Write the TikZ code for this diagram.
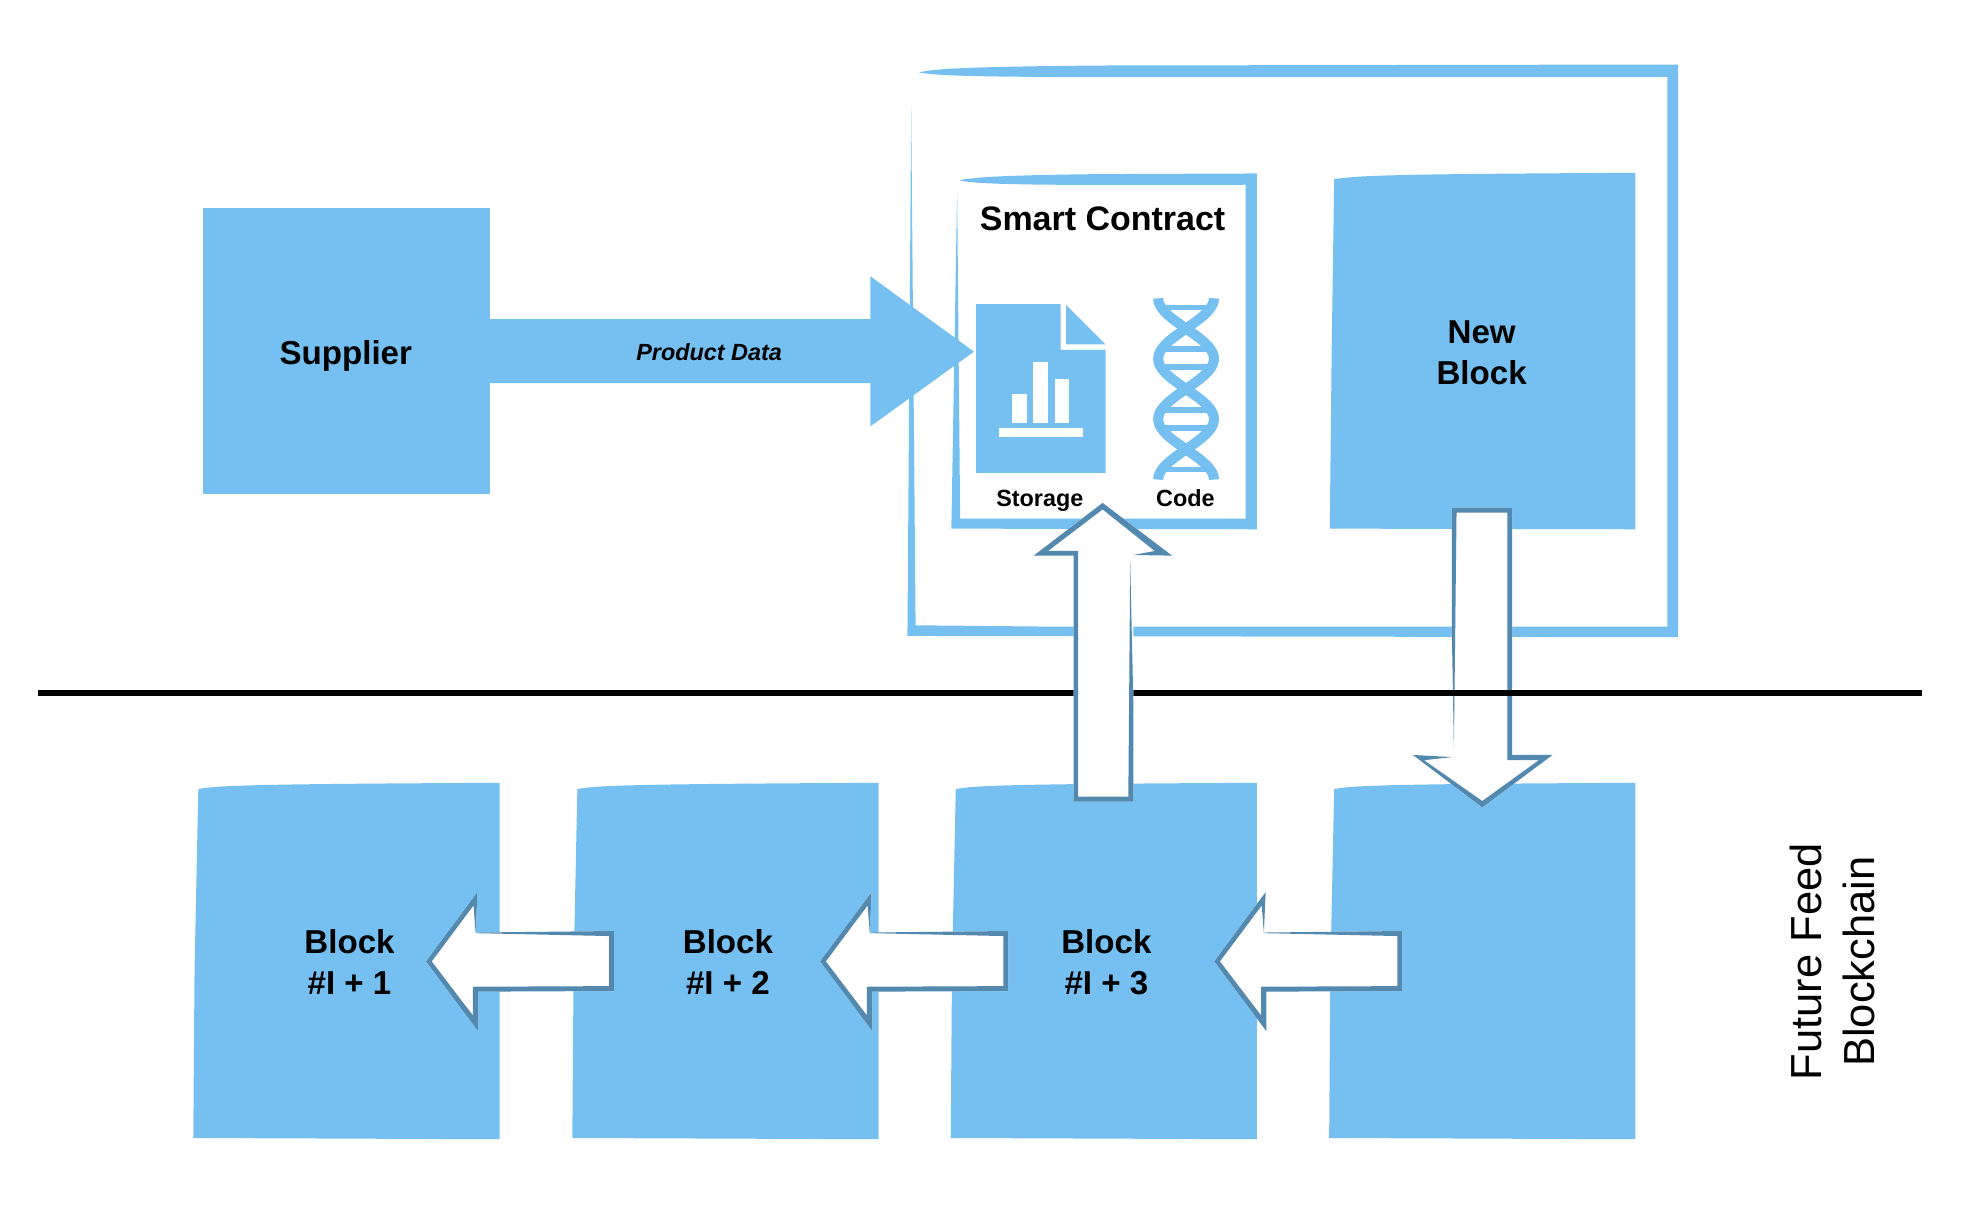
\documentclass[tikz,border=0pt]{standalone}
\usepackage{fontspec}
\setmainfont{Liberation Sans}
\usetikzlibrary{calc}
\definecolor{blockblue}{HTML}{75C0F0}
\definecolor{arrowblue}{HTML}{5388AF}
\tikzset{
  bluefill/.style={fill=blockblue,draw=none},
  ringfill/.style={fill=arrowblue,draw=none},
  whitefill/.style={fill=white,draw=none},
  maintext/.style={inner sep=0pt,align=center,text=black,font=\fontsize{7.5}{9.3}\selectfont\bfseries},
  smalltext/.style={inner sep=0pt,align=center,text=black,anchor=base,font=\fontsize{5.3}{6.5}\selectfont\bfseries},
  sidetext/.style={inner sep=0pt,align=center,text=black,font=\fontsize{9.85}{12.2}\selectfont},
}
\newcommand{\sketchblock}[1]{%
  \begin{scope}[shift={(#1)}]
    \fill[bluefill] (4,5) .. controls (20,2) and (50,1) .. (244,0) -- (244,284) -- (0,283) -- (1,150) -- cycle;
  \end{scope}}
\newcommand{\leftblockarrow}[1]{%
  \begin{scope}[shift={(#1)}]
    \fill[whitefill] (0,0) -- (41,-55.2) -- (39.6,-23) -- (149.8,-24.2) -- (149.8,23.6) -- (41.5,24.1) -- (41.5,55.5) -- cycle;
    \fill[ringfill,even odd rule]
      (0,0) -- (41,-55.2) -- (39.6,-23) -- (149.8,-24.2) -- (149.8,23.6) -- (41.5,24.1) -- (41.5,55.5) -- cycle
      (4.6,0) -- (37.9,-44.6) -- (39.6,-22.5) -- (146,-20.2) -- (146,19.7) -- (37.3,20.2) -- (37.3,43) -- cycle;
  \end{scope}}
\begin{document}
\begin{tikzpicture}[x=0.01cm,y=-0.01cm]
\useasboundingbox (0,-0.7) rectangle (1568,972.9);
% Supplier and product arrow
\node[fill=blockblue,minimum width=2.28cm,minimum height=2.28cm,inner sep=0pt,outer sep=0pt] (supplierbox) at (276,279) {};
\node[maintext] (supplier) at (275.5,283) {Supplier};
% outer frame
\fill[bluefill] (732.3,57) .. controls (745,54) and (770,52.5) .. (876,51.5) -- (1337,50.7) -- (1337,507) -- (723,506) -- (726,85)
  -- (729.5,497.5) -- (830,498.5) -- (1328.5,498.5) -- (1328.5,60.8) -- (876,60.8) .. controls (770,60.5) and (745,59.5) .. (732.3,57) -- cycle;
% new block
\fill[bluefill] (1063,142) .. controls (1085,139) and (1110,138) .. (1303,137) -- (1303,421) -- (1059.5,420.5) -- (1061,280) -- cycle;
\node[maintext] (newblock) at (1180.5,280) {New\\Block};
% smart contract frame
\fill[bluefill] (764.4,143) .. controls (775,140.5) and (800,138.8) .. (880,138) -- (1001.5,137.5) -- (1001.5,421) -- (758,420.5) -- (762.6,151)
  -- (765,412.5) -- (992.5,412.5) -- (992.5,146.5) -- (880,146.7) .. controls (800,146.5) and (775,145.5) .. (764.4,143) -- cycle;
\node[maintext,font=\fontsize{7.7}{9.4}\selectfont\bfseries] (contract) at (878.5,174) {Smart Contract};
% product arrow
\fill[bluefill] (supplierbox.east) ++(0,-25.5) -- ++(303.5,0) -- ++(0,-34) -- (776,279.5) -- (693.5,339) -- (693.5,304.5) -- ($(supplierbox.east)+(0,25.5)$) -- cycle;
\node[smalltext,anchor=center,font=\fontsize{5.3}{6.5}\selectfont\bfseries\itshape] (product) at (565,279.5) {Product Data};
% storage icon
\fill[bluefill] (777.7,241.7) -- (845,241.7) -- (845,278) -- (881,278) -- (881,376) -- (777.7,376) -- cycle;
\fill[bluefill] (849.4,242.3) -- (849.4,273.6) -- (880.7,273.6) -- cycle;
\fill[whitefill] (806.6,313.4) rectangle (818.3,336.3);
\fill[whitefill] (823.4,287.7) rectangle (835.3,336.3);
\fill[whitefill] (840.4,301.4) rectangle (852,336.3);
\fill[whitefill] (796,340.5) rectangle (863,347.4);
\node[smalltext] (storage) at (828.5,402.5) {Storage};
% code icon
\draw[blockblue,line width=0.08cm,line join=round] plot[domain=0:144.4,samples=90] ({945+22.2*cos(\x/48.13*180)},{237+\x});
\draw[blockblue,line width=0.08cm,line join=round] plot[domain=0:144.4,samples=90] ({945-22.2*cos(\x/48.13*180)},{237+\x});
\foreach \ry in {244.3,277.6,291.9,325.9,340.3,373.4}{
  \pgfmathsetmacro{\halfw}{22.2*abs(cos((\ry-237)/48.13*180))}
  \draw[blockblue,line width=0.046cm] ({945-\halfw},\ry) -- ({945+\halfw},\ry);
}
\node[smalltext] (code) at (944.5,402.5) {Code};
% lower blocks
\sketchblock{154,623}
\sketchblock{456,623}
\sketchblock{757.5,623}
\sketchblock{1059,623}
\node[maintext] (b1) at (278.5,766) {Block\\\#I + 1};
\node[maintext] (b2) at (580,766) {Block\\\#I + 2};
\node[maintext] (b3) at (881.5,766) {Block\\\#I + 3};
% down arrow
\fill[whitefill] (1156.7,404) -- (1204.8,404) -- (1204.8,600.8) -- (1237,600.8) -- (1181,642.6) -- (1125.7,600.8) -- (1156.7,600.8) -- cycle;
\fill[ringfill] (1156.7,404) -- (1204.8,404) -- (1204.8,600.8) -- (1237,600.8) -- (1181,642.6) -- (1125.7,600.8) -- (1157,602.5) -- (1134.6,605) -- (1181,637.5) -- (1226,605) -- (1201,605) -- (1201,407.7) -- (1160.5,407.7) -- (1158.4,595) -- (1156.7,500) -- cycle;
% horizontal rule
\coordinate (ruleL) at (30,551.7);
\coordinate (ruleR) at (1531,551.7);
\draw[black,line width=0.047cm] (ruleL) -- (ruleR);
% up arrow
\fill[whitefill] (878.5,400) -- (933.8,442) -- (903,442) -- (903,638) -- (855.4,638) -- (855.4,442) -- (823.6,442) -- cycle;
\fill[ringfill] (878.5,400) -- (933.8,442) -- (903,441.5) -- (920,438.3) -- (878.5,405.2) -- (835,438.3) -- (859,438.3) -- (859,634) -- (899,634) -- (900.5,447) -- (903,560) -- (903,638) -- (855.4,638) -- (855.4,442) -- (823.6,442) -- cycle;
% chain arrows
\leftblockarrow{339.4,765.3}
\leftblockarrow{653.4,765.3}
\leftblockarrow{967.4,765.3}
% side label
\node[sidetext,rotate=90] (future) at (1460,765.5) {Future Feed\\Blockchain};
\end{tikzpicture}
\end{document}
